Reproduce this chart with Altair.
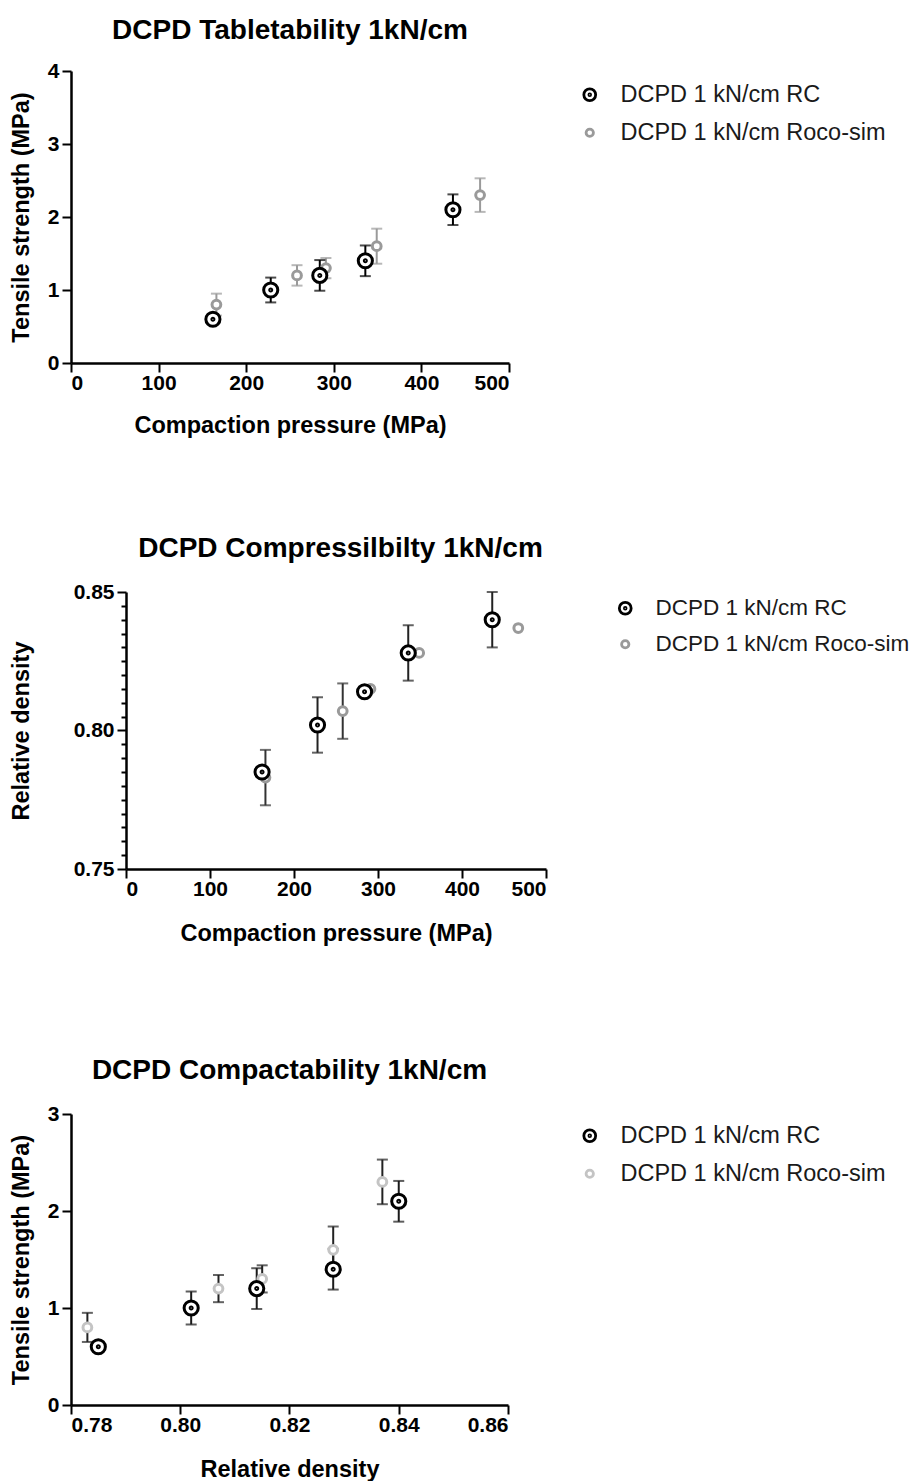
import altair as alt
import pandas as pd

FONT = "Liberation Sans"

series = ["DCPD 1 kN/cm RC", "DCPD 1 kN/cm Roco-sim"]
titles = ["DCPD Tabletability 1kN/cm", "DCPD Compressilbilty 1kN/cm", "DCPD Compactability 1kN/cm"]

pressure_rc = [162, 228, 284, 336, 436]
pressure_roco = [166, 258, 291, 349, 467]
ts_rc = [0.6, 1.0, 1.2, 1.4, 2.1]
ts_rc_err = [0.0, 0.17, 0.21, 0.21, 0.21]
ts_roco = [0.8, 1.2, 1.3, 1.6, 2.3]
ts_roco_err = [0.15, 0.14, 0.14, 0.24, 0.23]
rd_rc = [0.785, 0.802, 0.814, 0.828, 0.840]
rd_rc_err = [0.0, 0.01, 0.0, 0.01, 0.01]
rd_roco = [0.783, 0.807, 0.815, 0.828, 0.837]
rd_roco_err = [0.01, 0.01, 0.0, 0.0, 0.0]

pressure_ticks = [0, 100, 200, 300, 400, 500]
ts_ticks1 = [0, 1, 2, 3, 4]
ts_ticks3 = [0, 1, 2, 3]
rd_ticks_minor = [round(0.75 + i * 0.005, 3) for i in range(21)]
rd_ticks_x = [0.78, 0.80, 0.82, 0.84, 0.86]


def circ(r):
    return f"M{-r},0A{r},{r} 0 1,0 {r},0A{r},{r} 0 1,0 {-r},0Z"


RC_PATH = circ(1) + circ(0.14)
ROCO_PATH = circ(0.62)


def frame(x_rc, y_rc, e_rc, x_ro, y_ro, e_ro):
    rows = []
    for x, y, e in zip(x_ro, y_ro, e_ro):
        rows.append(dict(x=x, y=y, err=e, lo=y - e, hi=y + e, series=series[1], ord=0))
    for x, y, e in zip(x_rc, y_rc, e_rc):
        rows.append(dict(x=x, y=y, err=e, lo=y - e, hi=y + e, series=series[0], ord=1))
    return pd.DataFrame(rows)


def panel(df, title_params, xscale, xaxis, ydom, yaxis, w, h,
          marker_colors, bar_colors, legend_x, legend_y, legend_font=23.5):
    base = alt.Chart(df)
    xenc = alt.X("x:Q", scale=xscale, axis=xaxis)

    def yenc(field):
        return alt.Y(f"{field}:Q", scale=alt.Scale(domain=ydom, nice=False, zero=False), axis=yaxis)

    layers = []
    for s, col in zip(series[::-1], bar_colors[::-1]):
        errs = base.transform_filter(f"datum.err > 0 && datum.series == '{s}'")
        layers.append(errs.mark_rule(strokeWidth=2, color=col).encode(x=xenc, y=yenc("lo"), y2="hi:Q"))
        layers.append(errs.mark_tick(orient="horizontal", size=11, thickness=2, color=col)
                      .encode(x=xenc, y=yenc("lo")))
        layers.append(errs.mark_tick(orient="horizontal", size=11, thickness=2, color=col)
                      .encode(x=xenc, y=yenc("hi")))
    leg = alt.Legend(
        title=None, orient="none", legendX=legend_x, legendY=legend_y,
        labelFont=FONT, labelFontSize=legend_font, labelColor="#1a1a1a", labelFontWeight="normal",
        symbolSize=140, symbolStrokeWidth=2.8, rowPadding=13, labelOffset=19,
        labelLimit=400)
    pts = base.mark_point(filled=False, fill="white", strokeWidth=3, size=200, opacity=1).encode(
        x=xenc, y=yenc("y"),
        color=alt.Color("series:N", scale=alt.Scale(domain=series, range=marker_colors), legend=leg),
        shape=alt.Shape("series:N", scale=alt.Scale(domain=series, range=[RC_PATH, ROCO_PATH]), legend=leg),
        order=alt.Order("ord:Q"))
    layers.append(pts)
    return alt.layer(*layers).properties(width=w, height=h, title=title_params)


def ttl(text, offset, dx=0, lines=None, line_height=None):
    kw = {}
    if line_height is not None:
        kw["lineHeight"] = line_height
    return alt.TitleParams(lines if lines else text, font=FONT, fontSize=28, fontWeight="bold",
                           color="black", anchor="middle", offset=offset, dx=dx, **kw)


def ax(title, values, fmt, title_pad, label_pad, **kw):
    return alt.Axis(title=title, values=values, format=fmt, titlePadding=title_pad,
                    labelPadding=label_pad, grid=False, labelOverlap=False, **kw)


df1 = frame(pressure_rc, ts_rc, ts_rc_err, pressure_roco, ts_roco, ts_roco_err)
df2 = frame(pressure_rc, rd_rc, rd_rc_err, pressure_roco, rd_roco, rd_roco_err)
df3 = frame(rd_rc, ts_rc, ts_rc_err, rd_roco, ts_roco, ts_roco_err)

p1 = panel(df1, ttl(titles[0], 15),
           alt.Scale(domain=[0, 500], nice=False, zero=False),
           ax("Compaction pressure (MPa)", pressure_ticks, "d", 20, 0),
           [0, 4], ax("Tensile strength (MPa)", ts_ticks1, "d", 14, 3),
           438, 292, ["black", "#9a9a9a"], ["black", "#9a9a9a"], 507, 12)

yaxis2 = alt.Axis(
    title="Relative density", values=rd_ticks_minor, titlePadding=40, labelPadding=3,
    grid=False, labelOverlap=False, offset=-55,
    labelExpr="round(datum.value*1000) % 50 == 0 ? format(datum.value, '.2f') : ''",
    tickSize={"condition": {"test": "round(datum.value*1000) % 50 == 0", "value": 9}, "value": 5})
p2 = panel(df2, ttl(titles[1], 18, dx=32),
           alt.Scale(domain=[0, 500], nice=False, zero=False, range=[55, 475]),
           ax("Compaction pressure (MPa)", pressure_ticks, "d", 22, 0),
           [0.75, 0.85], yaxis2,
           475, 277, ["black", "#9a9a9a"], ["#222222", "#333333"], 543, 5, legend_font=22.5)

p3 = panel(df3, ttl(titles[2], 18, lines=["", titles[2]], line_height=14),
           alt.Scale(domain=[0.78, 0.86], nice=False, zero=False),
           ax("Relative density", rd_ticks_x, ".2f", 22, 0),
           [0, 3], ax("Tensile strength (MPa)", ts_ticks3, "d", 14, 3),
           437, 291, ["black", "#c4c4c4"], ["#1a1a1a", "#222222"], 507, 10)

chart = alt.vconcat(p1, p2, p3, spacing=98).resolve_scale(
    color="independent", shape="independent"
).resolve_legend(
    color="independent", shape="independent"
).properties(
    padding={"left": 1, "top": 9, "right": 0, "bottom": 0}
).configure_view(stroke=None).configure_axis(
    domainColor="black", domainWidth=2.5, tickColor="black", tickWidth=2, tickSize=9,
    labelFont=FONT, labelFontSize=21, labelFontWeight="bold", labelColor="black",
    titleFont=FONT, titleFontSize=23.5, titleFontWeight="bold", titleColor="black"
)

chart.save("out.html", embed_options={"renderer": "svg", "actions": False})
